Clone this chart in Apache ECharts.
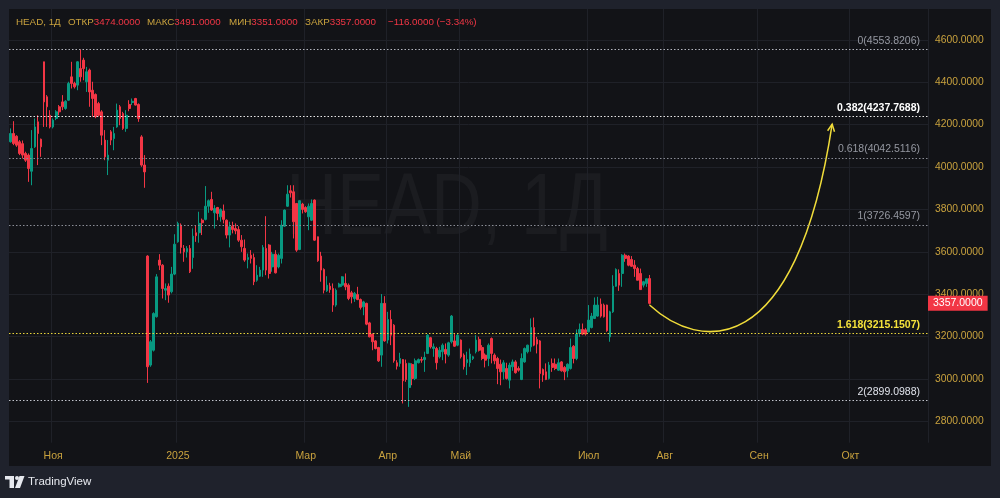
<!DOCTYPE html>
<html>
<head>
<meta charset="utf-8">
<title>HEAD, 1Д</title>
<script src="https://cdn.jsdelivr.net/npm/echarts@6/dist/echarts.min.js"></script>
<style>
  html, body { margin: 0; padding: 0; background: #1f222c; }
  #chart { width: 1000px; height: 498px; }
</style>
</head>
<body>
<div id="chart"></div>
<script>
// свечи [откр, закр, мин, макс], дневки
var candlesAutumn = [
  [4119, 4158, 4115, 4182], [4158, 4111, 4103, 4216], [4145, 4103, 4095, 4150], [4119, 4064, 4056, 4127],
  [4110, 4056, 4040, 4125], [4064, 4032, 4024, 4072], [4056, 3993, 3930, 4064], [3980, 4087, 3914, 4174],
  [4095, 4189, 4090, 4229], [4213, 4158, 4009, 4244], [4131, 4095, 4048, 4134], [4496, 4307, 4189, 4496],
  [4331, 4284, 4189, 4339], [4244, 4189, 4182, 4268], [4189, 4221, 4182, 4229], [4229, 4260, 4221, 4268],
  [4284, 4260, 4244, 4292], [4307, 4284, 4268, 4339], [4276, 4310, 4270, 4315], [4315, 4394, 4312, 4402],
  [4425, 4394, 4370, 4496], [4394, 4378, 4370, 4402], [4386, 4496, 4362, 4499], [4464, 4425, 4402, 4554],
  [4504, 4464, 4409, 4515], [4402, 4449, 4354, 4472], [4457, 4354, 4284, 4464], [4362, 4323, 4237, 4402],
  [4342, 4237, 4230, 4347], [4299, 4244, 4237, 4307], [4260, 4150, 4103, 4268], [4127, 4048, 4032, 4174],
  [4032, 4056, 3962, 4127], [4166, 4127, 4103, 4174], [4134, 4158, 4079, 4189], [4189, 4268, 4185, 4299],
  [4284, 4229, 4197, 4292], [4252, 4182, 4175, 4260], [4182, 4244, 4166, 4268], [4295, 4276, 4263, 4315],
  [4304, 4310, 4292, 4323], [4323, 4292, 4290, 4326], [4295, 4229, 4213, 4300], [4142, 4009, 4001, 4150],
  [4009, 3977, 3902, 4056]
];
var candlesWinter = [
  [3580, 3058, 2982, 3584], [3066, 3176, 3058, 3184], [3136, 3309, 3130, 3315], [3294, 3482, 3290, 3495],
  [3561, 3537, 3514, 3589], [3537, 3427, 3380, 3542], [3419, 3427, 3372, 3451], [3438, 3396, 3360, 3451],
  [3412, 3495, 3404, 3529], [3495, 3636, 3490, 3683], [3647, 3734, 3643, 3742], [3726, 3621, 3592, 3734],
  [3616, 3600, 3553, 3632], [3600, 3616, 3573, 3627], [3616, 3506, 3500, 3632], [3573, 3674, 3520, 3710],
  [3690, 3676, 3647, 3726], [3690, 3734, 3643, 3789], [3749, 3737, 3679, 3757], [3753, 3815, 3748, 3910],
  [3815, 3841, 3784, 3847], [3847, 3797, 3793, 3883], [3784, 3804, 3710, 3820], [3809, 3781, 3749, 3812],
  [3765, 3800, 3742, 3805], [3793, 3753, 3734, 3823], [3749, 3679, 3663, 3753], [3679, 3718, 3621, 3742],
  [3721, 3705, 3687, 3742], [3710, 3699, 3683, 3734], [3705, 3655, 3647, 3721], [3655, 3624, 3600, 3679],
  [3616, 3561, 3553, 3658], [3564, 3573, 3522, 3592], [3584, 3569, 3545, 3608], [3573, 3459, 3443, 3592],
  [3466, 3490, 3459, 3537], [3485, 3514, 3482, 3529], [3514, 3621, 3482, 3632], [3616, 3514, 3490, 3768],
  [3632, 3498, 3474, 3636], [3529, 3589, 3506, 3600], [3589, 3501, 3498, 3608], [3529, 3584, 3522, 3592],
  [3569, 3726, 3545, 3749], [3721, 3797, 3718, 3800], [3815, 3872, 3812, 3914], [3888, 3878, 3856, 3914],
  [3883, 3742, 3663, 3914], [3828, 3608, 3600, 3830], [3611, 3841, 3608, 3843], [3825, 3800, 3781, 3831]
];
var candlesSpring = [
  [3809, 3789, 3784, 3815], [3765, 3815, 3702, 3828], [3749, 3828, 3745, 3847], [3844, 3655, 3652, 3847],
  [3671, 3558, 3553, 3672], [3580, 3514, 3459, 3600], [3517, 3419, 3404, 3522], [3416, 3443, 3411, 3485],
  [3438, 3422, 3407, 3454], [3427, 3349, 3317, 3451], [3349, 3419, 3341, 3427], [3435, 3448, 3432, 3454],
  [3443, 3482, 3435, 3485], [3451, 3435, 3419, 3498], [3443, 3380, 3372, 3451], [3407, 3388, 3357, 3416],
  [3380, 3404, 3364, 3411], [3399, 3375, 3372, 3435], [3375, 3338, 3328, 3380], [3341, 3364, 3301, 3369],
  [3357, 3259, 3254, 3360], [3265, 3199, 3197, 3270], [3212, 3176, 3136, 3215], [3180, 3144, 3140, 3184],
  [3149, 3086, 3081, 3152], [3113, 3357, 3058, 3401], [3357, 3180, 3176, 3391], [3184, 3281, 3168, 3317],
  [3281, 3207, 3160, 3325], [3254, 3086, 3077, 3259], [3077, 3061, 3045, 3089], [3074, 3097, 3058, 3124],
  [3092, 2992, 2885, 3094], [3074, 2998, 2987, 3092], [2960, 3074, 2869, 3077], [3069, 3003, 2971, 3074],
  [3003, 3086, 2995, 3097], [3077, 3092, 3074, 3097], [3092, 3089, 3077, 3105], [3092, 3102, 3034, 3129],
  [3121, 3207, 3118, 3212], [3195, 3152, 3144, 3199], [3144, 3152, 3105, 3168], [3144, 3077, 3045, 3152],
  [3105, 3136, 3097, 3152], [3129, 3160, 3089, 3168], [3140, 3118, 3074, 3168], [3113, 3171, 3105, 3176],
  [3176, 3297, 3168, 3302], [3180, 3155, 3152, 3212], [3160, 3207, 3155, 3212], [3184, 3105, 3097, 3187],
  [3113, 3058, 3045, 3121], [3077, 3092, 3019, 3129], [3077, 3118, 3058, 3144], [3097, 3105, 3090, 3110],
  [3129, 3184, 3121, 3207], [3187, 3136, 3130, 3200]
];
var candlesSummer = [
  [3149, 3097, 3089, 3160], [3113, 3089, 3055, 3121], [3097, 3160, 3061, 3168], [3191, 3121, 3074, 3196],
  [3113, 3086, 3070, 3121], [3097, 3050, 2976, 3105], [3070, 3034, 2971, 3092], [3034, 3077, 2998, 3089],
  [3050, 3003, 2998, 3077], [2995, 3066, 2956, 3077], [3058, 3081, 3039, 3092], [3081, 3030, 3026, 3089],
  [3050, 3042, 3035, 3060], [2998, 3097, 2995, 3121], [3081, 3144, 3077, 3149], [3129, 3160, 3121, 3162],
  [3152, 3243, 3129, 3286], [3243, 3160, 3155, 3290], [3187, 3165, 3121, 3199], [3180, 3026, 2956, 3184],
  [3045, 3019, 2987, 3050], [3034, 2998, 2995, 3074], [3003, 3066, 2998, 3081], [3074, 3055, 3034, 3097],
  [3070, 3050, 3042, 3097], [3042, 3077, 3039, 3097], [3081, 3039, 3035, 3085], [3055, 3034, 2995, 3061],
  [3039, 3070, 3008, 3074], [3050, 3149, 3045, 3191], [3155, 3097, 3074, 3160], [3097, 3212, 3089, 3234],
  [3215, 3234, 3199, 3262], [3234, 3212, 3207, 3262], [3232, 3212, 3205, 3240], [3223, 3278, 3220, 3349],
  [3243, 3297, 3239, 3312], [3286, 3349, 3283, 3385], [3297, 3349, 3294, 3388], [3353, 3297, 3290, 3380],
  [3349, 3294, 3290, 3356], [3349, 3228, 3223, 3351], [3199, 3317, 3176, 3322], [3317, 3438, 3312, 3490],
  [3438, 3517, 3435, 3522], [3498, 3443, 3416, 3517], [3498, 3584, 3435, 3589], [3584, 3569, 3553, 3592],
  [3580, 3537, 3532, 3584], [3564, 3532, 3529, 3580], [3537, 3521, 3482, 3561], [3521, 3466, 3466, 3529],
  [3498, 3422, 3421, 3521], [3443, 3459, 3432, 3463], [3451, 3473, 3435, 3474], [3474, 3357, 3351, 3491]
];
var candles = candlesAutumn.concat(candlesWinter, candlesSpring, candlesSummer);

// шкала времени: бары + пустое место справа под прогноз
var totalSlots = 302;
var categories = [];
for (var i = 0; i < totalSlots; i++) categories.push(i);
var monthTicks = { 14: 'Ноя', 55: '2025', 97: 'Мар', 124: 'Апр', 148: 'Май', 190: 'Июл', 215: 'Авг', 246: 'Сен', 276: 'Окт' };

var priceTicks = [2800, 3000, 3200, 3400, 3600, 3800, 4000, 4200, 4400, 4600];

// фибо
var fibRatios = ['0', '0.382', '0.618', '1', '1.618', '2'];
var fibPrices = [4553.8206, 4237.7688, 4042.5116, 3726.4597, 3215.1507, 2899.0988];

// прогноз: старт, 2 контрольные точки, острие стрелки
var forecastPath = [[210, 3349], [226, 3136], [258, 3070], [270, 4202]];

var legendNames = ['ОТКР', 'МАКС', 'МИН', 'ЗАКР'];
var legendValues = ['3474.0000', '3491.0000', '3351.0000', '3357.0000'];
var legendChange = '−116.0000 (−3.34%)';

var FONT = '"Liberation Sans", Arial, sans-serif';
var GOLD = '#c9a23e';
var UP = '#089981';
var DOWN = '#f23645';
var GRID = '#1f2128';
var fibLineColors = ['#b2b5be', '#e8e8e8', '#8a8d96', '#8a8d96', '#e8d53a', '#c0c3cb'];
var fibTextColors = ['#9598a1', '#ffffff', '#9598a1', '#9598a1', '#f5e23b', '#e0e3eb'];
var fibBold = [false, true, false, false, true, false];

var lastClose = candles[candles.length - 1][1];

var fibLines = fibPrices.map(function(p, k) {
  return {
    yAxis: p,
    lineStyle: { color: fibLineColors[k], type: [1.5, 2], width: 1 },
    label: {
      show: true, position: 'insideEndTop', distance: [8, 3],
      formatter: fibRatios[k] + '(' + p.toFixed(4) + ')',
      color: fibTextColors[k], fontWeight: fibBold[k] ? 'bold' : 'normal',
      fontSize: 10.5, fontFamily: FONT
    }
  };
});
var priceTag = {
  yAxis: lastClose,
  lineStyle: { width: 0, color: 'rgba(0,0,0,0)' },
  label: {
    show: true, position: 'end', distance: 0,
    formatter: lastClose.toFixed(4),
    color: '#ffffff', backgroundColor: DOWN, padding: [2, 5, 2, 5],
    fontSize: 10.5, fontFamily: FONT
  }
};

// легенда сверху
var HF = 9.8;
var header = [{ type: 'text', x: 16, y: 22, z: 50,
  style: { text: 'HEAD, 1Д', fill: GOLD, fontSize: HF, fontFamily: FONT, verticalAlign: 'middle' } }];
var headerX = [68, 147, 229, 305];
legendNames.forEach(function(n, k) {
  header.push({ type: 'text', x: headerX[k], y: 22, z: 50,
    style: { text: '{l|' + n + '}{v|' + legendValues[k] + '}', verticalAlign: 'middle',
      fontSize: HF, fontFamily: FONT,
      rich: { l: { fill: GOLD, fontSize: HF, fontFamily: FONT }, v: { fill: DOWN, fontSize: HF, fontFamily: FONT } } } });
});
header.push({ type: 'text', x: 388, y: 22, z: 50,
  style: { text: legendChange, fill: DOWN, fontSize: HF, fontFamily: FONT, verticalAlign: 'middle' } });

var frame = [
  { type: 'rect', shape: { x: 0, y: 0, width: 1000, height: 9 }, style: { fill: '#1f222c' }, z: 40 },
  { type: 'rect', shape: { x: 0, y: 0, width: 9, height: 498 }, style: { fill: '#1f222c' }, z: 40 },
  { type: 'rect', shape: { x: 991, y: 0, width: 9, height: 498 }, style: { fill: '#1f222c' }, z: 40 },
  { type: 'rect', shape: { x: 0, y: 466, width: 1000, height: 32 }, style: { fill: '#1f222c' }, z: 40 },
  // лого
  { type: 'rect', shape: { x: 5, y: 476, width: 9, height: 3.5 }, style: { fill: '#e6e8ee' }, z: 50 },
  { type: 'rect', shape: { x: 9.5, y: 476, width: 4.5, height: 12 }, style: { fill: '#e6e8ee' }, z: 50 },
  { type: 'circle', shape: { cx: 17, cy: 478, r: 2 }, style: { fill: '#e6e8ee' }, z: 50 },
  { type: 'polygon', shape: { points: [[19.5, 476], [24.5, 476], [20, 488], [15, 488]] }, style: { fill: '#e6e8ee' }, z: 50 },
  { type: 'text', x: 28, y: 482, z: 50,
    style: { text: 'TradingView', fill: '#e6e8ee', fontSize: 11.5, fontFamily: FONT, verticalAlign: 'middle' } },
  // водяной знак
  { type: 'text', x: 447, y: 210, z: -5, scaleX: 0.8,
    style: { text: 'HEAD, 1Д', fill: 'rgba(255,255,255,0.04)', fontSize: 88, fontFamily: FONT,
      align: 'center', verticalAlign: 'middle' } }
];

var chart = echarts.init(document.getElementById('chart'));
chart.setOption({
  backgroundColor: '#121317',
  animation: false,
  graphic: { elements: frame.concat(header) },
  grid: { left: 9, right: 72, top: 9, bottom: 55.3 },
  xAxis: {
    type: 'category', data: categories, boundaryGap: true,
    axisLine: { show: false }, axisTick: { show: false },
    axisLabel: {
      interval: function(idx) { return monthTicks[idx] !== undefined; },
      formatter: function(v, idx) { return monthTicks[idx] || ''; },
      color: GOLD, fontSize: 10.5, fontFamily: FONT, margin: 8
    },
    splitLine: {
      show: true,
      interval: function(idx) { return monthTicks[idx] !== undefined; },
      lineStyle: { color: GRID, width: 1 }
    }
  },
  yAxis: {
    type: 'value', position: 'right', min: 2700, max: 4745, interval: 100,
    axisLine: { show: false }, axisTick: { show: false }, splitLine: { show: false },
    axisLabel: {
      color: GOLD, fontSize: 10.3, fontFamily: FONT, margin: 7,
      formatter: function(v) { return priceTicks.indexOf(v) >= 0 ? v.toFixed(4) : ''; }
    }
  },
  series: [
    {
      type: 'candlestick', data: candles, barWidth: 2.2, z: 2,
      itemStyle: { color: UP, color0: DOWN, borderColor: UP, borderColor0: DOWN, borderWidth: 1 },
      markLine: { symbol: 'none', silent: true, animation: false, data: fibLines.concat([priceTag]) }
    },
    {
      type: 'custom', z: 3, silent: true, data: [forecastPath[0]],
      renderItem: function(params, api) {
        var p = forecastPath.map(function(d) { return api.coord(d); });
        var a = Math.atan2(p[3][1] - p[2][1], p[3][0] - p[2][0]);
        var L = 8;
        var w1 = [p[3][0] - L * Math.cos(a - 0.45), p[3][1] - L * Math.sin(a - 0.45)];
        var w2 = [p[3][0] - L * Math.cos(a + 0.45), p[3][1] - L * Math.sin(a + 0.45)];
        return {
          type: 'group',
          children: [
            { type: 'bezierCurve',
              shape: { x1: p[0][0], y1: p[0][1], cpx1: p[1][0], cpy1: p[1][1],
                       cpx2: p[2][0], cpy2: p[2][1], x2: p[3][0], y2: p[3][1] },
              style: { stroke: '#f0dc3a', lineWidth: 1.5, fill: null } },
            { type: 'polyline', shape: { points: [w1, p[3], w2] },
              style: { stroke: '#f0dc3a', lineWidth: 1.5, fill: null } }
          ]
        };
      },
      markLine: {
        symbol: 'none', silent: true, animation: false, z: 1,
        lineStyle: { color: GRID, type: 'solid', width: 1 },
        label: { show: false },
        data: priceTicks.map(function(v) { return { yAxis: v }; })
      }
    }
  ]
});
</script>
</body>
</html>
